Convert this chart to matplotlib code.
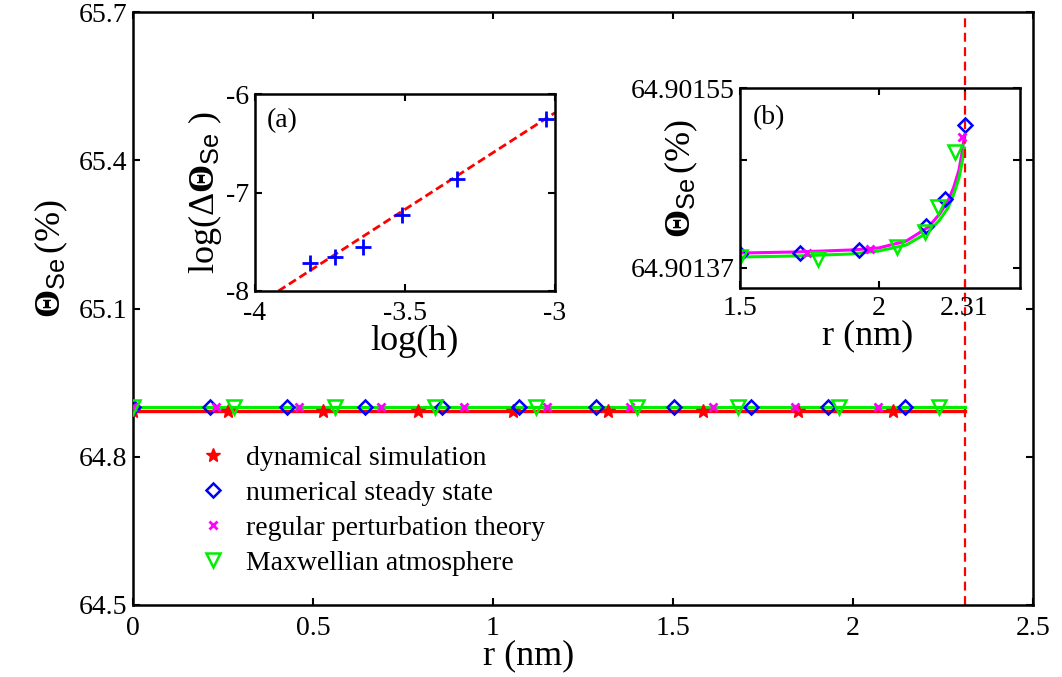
import numpy as np
import matplotlib.pyplot as plt

# --- main panel: surface coverage along r ---
dyn_r = [0.0, 0.264, 0.528, 0.792, 1.056, 1.32, 1.584, 1.848, 2.112]
dyn_theta = [64.893, 64.893, 64.893, 64.893, 64.893, 64.893, 64.893, 64.893, 64.893]
steady_r = [0.0, 0.2145, 0.429, 0.6435, 0.858, 1.0725, 1.287, 1.5015, 1.716, 1.9305, 2.145]
steady_theta = [64.9014, 64.9014, 64.9014, 64.9014, 64.9014, 64.9014,
                64.9014, 64.9014, 64.9014, 64.9014, 64.9014]
pert_r = [0.0, 0.23, 0.46, 0.69, 0.92, 1.15, 1.38, 1.61, 1.84, 2.07]
pert_theta = [64.9014, 64.9014, 64.9014, 64.9014, 64.9014,
              64.9014, 64.9014, 64.9014, 64.9014, 64.9014]
maxw_r = [0.0, 0.28, 0.56, 0.84, 1.12, 1.4, 1.68, 1.96, 2.24]
maxw_theta = [64.9014, 64.9014, 64.9014, 64.9014, 64.9014,
              64.9014, 64.9014, 64.9014, 64.9014]
line_r = [0.0, 2.31]
dyn_line = [64.893, 64.893]
maxw_line = [64.9014, 64.9014]
r_edge = 2.31

main_xticks = [0, 0.5, 1, 1.5, 2, 2.5]
main_xticklabels = ['0', '0.5', '1', '1.5', '2', '2.5']
main_yticks = [64.5, 64.8, 65.1, 65.4, 65.7]

# --- inset (a): convergence in step size ---
log_h = [-3.817, -3.733, -3.639, -3.511, -3.328, -3.03]
log_dtheta = [-7.715, -7.654, -7.553, -7.230, -6.864, -6.25]
fit_x = [-3.922, -3.0]
fit_y = [-8.0, -6.19]

# --- inset (b): zoom near the edge ---
b_steady_r = [1.50, 1.716, 1.931, 2.17, 2.24, 2.31]
b_steady_theta = [64.901384, 64.901385, 64.901388, 64.901412, 64.901439, 64.901513]
b_pert_r = [1.74, 1.97, 2.30]
b_pert_theta = [64.901385, 64.901389, 64.901501]
b_maxw_r = [1.50, 1.783, 2.066, 2.168, 2.216, 2.276]
b_maxw_theta = [64.901381, 64.901379, 64.901391, 64.901406, 64.901431, 64.901486]
b_pert_curve_r = [1.5, 1.7, 1.9, 2.0, 2.1, 2.18, 2.22, 2.25, 2.27, 2.29, 2.30, 2.31]
b_pert_curve = [64.901385, 64.901386, 64.901388, 64.90139, 64.901397, 64.901411,
                64.901424, 64.901437, 64.90145, 64.901468, 64.901484, 64.901503]
b_maxw_curve_r = [1.5, 1.7, 1.9, 2.0, 2.1, 2.18, 2.22, 2.25, 2.27, 2.29, 2.30, 2.31]
b_maxw_curve = [64.901381, 64.901382, 64.901384, 64.901387, 64.901393, 64.901406,
                64.901418, 64.90143, 64.901443, 64.90146, 64.901474, 64.90149]

plt.rcParams['font.family'] = ['Liberation Serif', 'DejaVu Serif']
plt.rcParams['mathtext.fontset'] = 'custom'
plt.rcParams['mathtext.rm'] = 'Liberation Serif'
plt.rcParams['mathtext.it'] = 'Liberation Serif:italic'
plt.rcParams['mathtext.bf'] = 'Liberation Serif:bold'
plt.rcParams['mathtext.sf'] = 'Liberation Sans'
plt.rcParams['xtick.direction'] = 'in'
plt.rcParams['ytick.direction'] = 'in'
plt.rcParams['xtick.top'] = True
plt.rcParams['ytick.right'] = True
plt.rcParams['axes.linewidth'] = 1.8

W, H = 1062, 677
fig = plt.figure(figsize=(W / 100, H / 100), dpi=100)


def px_axes(left, top, right, bottom):
    return fig.add_axes([left / W, 1 - bottom / H, (right - left) / W, (bottom - top) / H])


theta_label = r'$\mathbf{\Theta}_{\mathsf{Se}}\,\mathrm{(\%)}$'
green = '#00ee00'

ax = px_axes(133, 12, 1033, 605)
ax.plot(line_r, dyn_line, color='red', lw=2.4, zorder=2)
ax.plot(line_r, maxw_line, color='magenta', lw=2.2, zorder=2)
ax.plot(line_r, maxw_line, color=green, lw=2.2, zorder=2)
ax.axvline(r_edge, color='red', lw=1.6, ls=(0, (4, 2.5)), zorder=1)
ax.plot(dyn_r, dyn_theta, ls='none', marker='*', ms=10, color='red',
        label='dynamical simulation', zorder=3)
ax.plot(steady_r, steady_theta, ls='none', marker='D', ms=7, mfc='none', mew=1.8,
        color='blue', label='numerical steady state', zorder=4)
ax.plot(pert_r, pert_theta, ls='none', marker='x', ms=5.5, mew=2, color='magenta',
        label='regular perturbation theory', zorder=4)
ax.plot(maxw_r, maxw_theta, ls='none', marker='v', ms=10, mfc='none', mew=1.8,
        color=green, label='Maxwellian atmosphere', zorder=4)
ax.set_xlim(0, 2.5)
ax.set_ylim(64.5, 65.7)
ax.set_xticks(main_xticks)
ax.set_xticklabels(main_xticklabels)
ax.set_yticks(main_yticks)
ax.tick_params(labelsize=20, length=5, width=1.5)
ax.tick_params(axis='x', pad=8)
ax.tick_params(axis='y', pad=4)
ax.set_xlabel('r (nm)', fontsize=26)
ax.set_ylabel(theta_label, fontsize=26)
ax.xaxis.set_label_coords(0.44, -0.058)
ax.yaxis.set_label_coords(-0.07, 0.585)
ax.legend(loc='upper left', bbox_to_anchor=(0.055, 0.293), frameon=False,
          fontsize=20, handlelength=1.2, handletextpad=0.6, labelspacing=0.35,
          borderpad=0)

# inset (a)
axa = px_axes(255, 94, 555, 291)
axa.plot(fit_x, fit_y, color='red', lw=2, ls=(0, (3, 1.5)))
axa.plot(log_h, log_dtheta, ls='none', marker='+', ms=11, mew=2, color='blue')
axa.set_xlim(-4, -3)
axa.set_ylim(-8, -6)
axa.set_xticks([-4, -3.5, -3])
axa.set_xticklabels(['-4', '-3.5', '-3'])
axa.set_yticks([-8, -7, -6])
axa.set_yticklabels(['-8', '-7', '-6'])
axa.tick_params(labelsize=20, length=5, width=1.5)
axa.tick_params(axis='x', pad=7)
axa.tick_params(axis='y', pad=4)
axa.set_xlabel('log(h)', fontsize=26)
axa.xaxis.set_label_coords(0.53, -0.17)
axa.set_ylabel(r'log($\Delta\mathbf{\Theta}_{\mathsf{Se}}$ )', fontsize=26, labelpad=2)
axa.text(0.04, 0.93, '(a)', transform=axa.transAxes, fontsize=20, va='top')

# inset (b)
axb = px_axes(740, 88, 1020, 288)
axb.plot(b_pert_curve_r, b_pert_curve, color='magenta', lw=2.2)
axb.plot(b_maxw_curve_r, b_maxw_curve, color=green, lw=2.2)
axb.axvline(r_edge, color='red', lw=1.6, ls=(0, (4, 2.5)))
axb.plot(b_steady_r, b_steady_theta, ls='none', marker='D', ms=7, mfc='none', mew=1.8,
         color='blue')
axb.plot(b_pert_r, b_pert_theta, ls='none', marker='x', ms=5.5, mew=2, color='magenta')
axb.plot(b_maxw_r, b_maxw_theta, ls='none', marker='v', ms=10, mfc='none', mew=1.8,
         color=green)
axb.set_xlim(1.5, 2.51)
axb.set_ylim(64.90135, 64.90155)
axb.set_xticks([1.5, 2, 2.31])
axb.set_xticklabels(['1.5', '2', '2.31'])
axb.set_yticks([64.90137, 64.901478, 64.90155])
axb.set_yticklabels(['64.90137', '', '64.90155'])
axb.tick_params(labelsize=20, length=5, width=1.5)
axb.tick_params(axis='x', pad=6)
axb.tick_params(axis='y', pad=4)
axb.set_xlabel('r (nm)', fontsize=26)
axb.xaxis.set_label_coords(0.457, -0.155)
axb.set_ylabel(theta_label, fontsize=26)
axb.yaxis.set_label_coords(-0.143, 0.55)
axb.text(0.045, 0.915, '(b)', transform=axb.transAxes, fontsize=20, va='top')

fig.savefig('out.png', dpi=100)
